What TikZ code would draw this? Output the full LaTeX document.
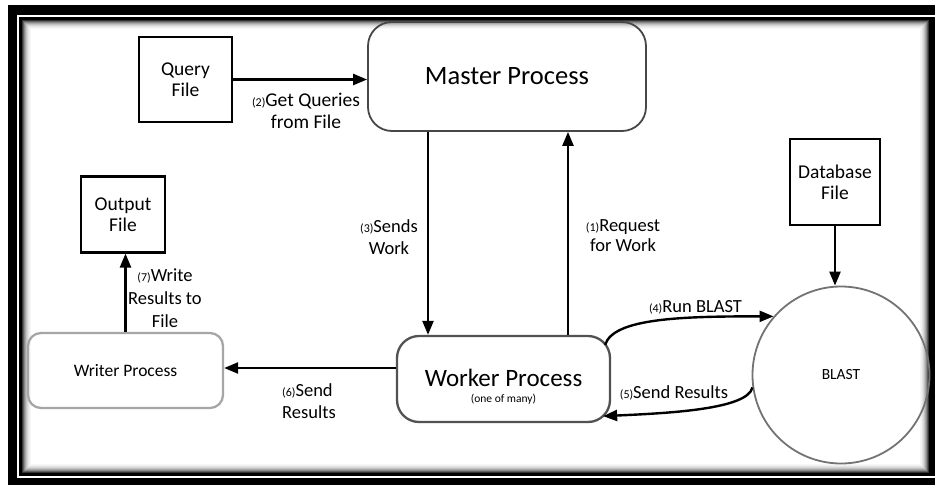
\documentclass[tikz,border=0pt]{standalone}
\usepackage{fontspec}
\setmainfont{Carlito}
\usetikzlibrary{arrows.meta,calc}
\newcommand{\pn}[1]{{\fontsize{12}{12}\selectfont(#1)}}
\begin{document}
\begin{tikzpicture}[x=1pt,y=-1pt,
  filebox/.style={draw=black, line width=2.1pt, inner sep=0pt, align=center,
    font=\fontsize{19.5}{21}\selectfont},
  procbox/.style={rounded corners=20pt, inner sep=0pt, align=center},
  conn/.style={line width=2.4pt, -{Triangle[length=14pt,width=11pt]}},
  lbl/.style={inner sep=0pt, align=center, font=\fontsize{18.5}{22}\selectfont}
]
\useasboundingbox (0,0) rectangle (935,485);
% frame
\fill[white] (0,0) rectangle (935,485);
\fill[black] (8,5) rectangle (935,485);
\draw[white, line width=1.6pt] (17.8,16) rectangle (945,477.2);
\foreach \i/\c in {0/100,1/100,2/100,3/80,4/62,5/46,6/34,7/24,8/16,9/10,10/6,11/3,12/0}
  \fill[black!\c] ({19+\i},{17+\i}) rectangle ({932-\i},{476-\i});

% nodes
\node[filebox, minimum width=93pt, minimum height=85pt] (query) at (185.5,79.5) {Query\\File};
\node[filebox, minimum width=84pt, minimum height=76pt] (output) at (123,214.5) {Output\\File};
\node[filebox, minimum width=90pt, minimum height=86pt] (database) at (835,182) {Database\\File};
\node[procbox, draw=black!72, line width=1.8pt, minimum width=278pt, minimum height=109pt,
  rounded corners=24pt, font=\fontsize{26.5}{28}\selectfont] (master) at (507,76.5) {Master Process};
\node[procbox, draw=black!68, line width=2.3pt, minimum width=213pt, minimum height=86pt,
  rounded corners=22pt] (worker) at (503.5,379) {};
\node[inner sep=0pt, align=center] (workertext) at (503.5,387)
  {{\fontsize{25}{26}\selectfont Worker Process}\\[4pt]{\fontsize{11.5}{13}\selectfont (one of many)}};
\node[procbox, draw=black!35, line width=2.3pt, minimum width=195pt, minimum height=75pt,
  rounded corners=13pt, font=\fontsize{17.5}{20}\selectfont] (writer) at (125.5,370.5) {Writer Process};
\node[circle, draw=black!55, line width=1.8pt, minimum size=177pt, inner sep=0pt,
  font=\fontsize{15.5}{18}\selectfont] (blast) at (841,375) {BLAST};

% connectors
\draw[conn] (query.east) -- (query.east -| master.west);
\draw[conn] ([xshift=-79pt]master.south) -- ([xshift=-75.5pt]worker.north);
\draw[conn] ([xshift=64.5pt]worker.north) -- ([xshift=61pt]master.south);
\draw[conn] ([yshift=11pt]worker.west) -- ([yshift=11pt]worker.west -| writer.east);
\draw[conn] (writer.north) -- (writer.north |- output.south);
\draw[conn] (database.south) -- (database.south |- blast.north);
\draw[conn] ([xshift=-6pt,yshift=-10pt]worker.north east) .. controls +(8,-27) and +(-90,0) .. (blast.139);
\draw[conn] (blast.188) .. controls +(-5,22) and +(65,-3) .. ([xshift=-8pt,yshift=7pt]worker.south east);

% labels
\node[lbl, font=\fontsize{19.5}{22}\selectfont] (l2) at (306,111) {\pn{2}Get Queries\\from File};
\node[lbl] (l3) at (389,237) {\pn{3}Sends\\Work};
\node[lbl, font=\fontsize{18.5}{20}\selectfont] (l1) at (623,236) {\pn{1}Request\\for Work};
\node[lbl] (l4) at (695.5,307) {\pn{4}Run BLAST};
\node[lbl] (l5) at (674,393) {\pn{5}Send Results};
\node[lbl, align=left, anchor=west] (l6) at (282,401) {\pn{6}Send\\Results};
\node[lbl, font=\fontsize{18.5}{23}\selectfont] (l7) at (165,298) {\pn{7}Write\\Results to\\File};
\end{tikzpicture}
\end{document}
